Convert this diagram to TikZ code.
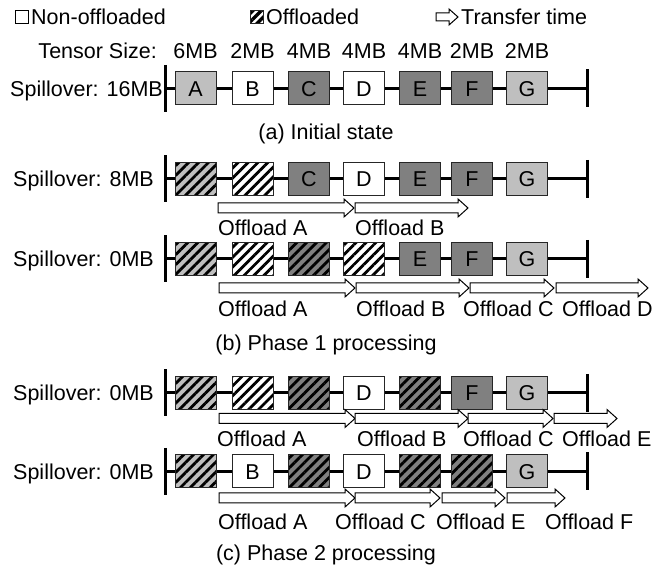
\documentclass[tikz,border=0pt]{standalone}
\usepackage{fontspec}
\setmainfont{Liberation Sans}
\usetikzlibrary{patterns.meta}

% block arrow for one transfer: from x #1 to x #2 at height #3
\newcommand{\xferarrow}[3]{%
  \draw[xfer] (#1,#3-5) -- (#2-10,#3-5) -- (#2-10,#3-9) -- (#2,#3)
    -- (#2-10,#3+9) -- (#2-10,#3+5) -- (#1,#3+5) -- cycle;}

\begin{document}
\begin{tikzpicture}[x=1pt, y=-1pt,
    every node/.style={inner sep=0, text height=15.4pt, text depth=0pt, font=\fontsize{21.5}{24}\selectfont},
    tensor/.style={draw=black!85, line width=1pt, minimum width=41pt, minimum height=33pt},
    cl/.style={tensor, fill=black!25},
    cw/.style={tensor, fill=white},
    cd/.style={tensor, fill=black!50},
    hatch/.style={tensor, preaction={fill=#1}, pattern={Lines[angle=45, distance=7pt, line width=2.8pt]}, pattern color=black},
    hl/.style={hatch=black!25},
    hw/.style={hatch=white},
    hd/.style={hatch=black!50},
    lane/.style={line width=3pt},
    xfer/.style={draw, fill=white, line width=1pt}
]
\useasboundingbox (0,0) rectangle (665,569);

% Legend
\node[draw, line width=1pt, minimum size=13pt, text height=0pt] (keyplain) at (21.5,17) {};
\node[anchor=west] (keyplaintxt) at (31,17) {Non-offloaded};
\node[tensor, minimum size=13pt, text height=0pt, preaction={fill=white}, pattern={Lines[angle=45, distance=6pt, line width=3.5pt]}] (keyoff) at (256.5,17) {};
\node[anchor=west] (keyofftxt) at (266,17) {Offloaded};
\draw[xfer] (436,13) -- (449,13) -- (449,9) -- (458,17) -- (449,25) -- (449,21) -- (436,21) -- cycle;
\node[anchor=west] (keyxfertxt) at (461,17) {Transfer time};

% Tensor sizes
\node[anchor=east] (tsize) at (157,51) {Tensor Size:};
\foreach \s [count=\i] in {6MB,2MB,4MB,4MB,4MB,2MB,2MB} {
  \pgfmathsetmacro\xx{{195.5,252.5,309,364,420,472,527}[\i-1]}
  \node (size\i) at (\xx,51) {\s};
}

% Rows of tensors
\def\rowa{cl/A,cw/B,cd/C,cw/D,cd/E,cd/F,cl/G}
\def\rowb{hl/,hw/,cd/C,cw/D,cd/E,cd/F,cl/G}
\def\rowc{hl/,hw/,hd/,hw/,cd/E,cd/F,cl/G}
\def\rowd{hl/,hw/,hd/,cw/D,hd/,cd/F,cl/G}
\def\rowe{hl/,cw/B,hd/,cw/D,hd/,hd/,cl/G}
\foreach \r/\y/\spec/\lab/\lx in {1/88.5/\rowa/16MB/163, 2/179/\rowb/8MB/154, 3/259/\rowc/0MB/154, 4/393/\rowd/0MB/154, 5/471.5/\rowe/0MB/154} {
  \node[anchor=east] (spill\r) at (\lx,\y) {Spillover: \lab};
  \coordinate (s\r) at (165,\y);
  \coordinate (e\r) at (587,\y);
  \draw[lane] (s\r) -- (e\r);
  \draw[lane] ([yshift=23.5pt]s\r) -- ([yshift=-23.5pt]s\r);
  \draw[lane] ([yshift=19pt]e\r) -- ([yshift=-19pt]e\r);
  \edef\thisrow{\spec}
  \foreach \st/\t [count=\i] in \thisrow {
    \pgfmathsetmacro\xx{{195.5,252.5,309,364,420,472,527}[\i-1]}
    \node[\st] (t\r-\i) at (\xx,\y) {\t};
  }
}

% Captions
\node (capa) at (326,132) {(a) Initial state};
\node (capb) at (326,343) {(b) Phase 1 processing};
\node (capc) at (326,553) {(c) Phase 2 processing};

% Transfers, row 2
\xferarrow{218}{354}{208}
\xferarrow{355}{468}{208}
\node[anchor=west] (off2a) at (218,228) {Offload A};
\node[anchor=west] (off2b) at (355,228) {Offload B};

% Transfers, row 3
\xferarrow{219}{355}{288}
\xferarrow{356}{469}{288}
\xferarrow{470}{554}{288}
\xferarrow{556}{648}{288}
\node[anchor=west] (off3a) at (218,309) {Offload A};
\node[anchor=west] (off3b) at (356,309) {Offload B};
\node[anchor=west] (off3c) at (463,309) {Offload C};
\node[anchor=west] (off3d) at (562,309) {Offload D};

% Transfers, row 4
\xferarrow{219}{355}{418.5}
\xferarrow{355}{468}{418.5}
\xferarrow{468}{553}{418.5}
\xferarrow{554}{617}{418.5}
\node[anchor=west] (off4a) at (217,439) {Offload A};
\node[anchor=west] (off4b) at (357,439) {Offload B};
\node[anchor=west] (off4c) at (463,439) {Offload C};
\node[anchor=west] (off4e) at (562,439) {Offload E};

% Transfers, row 5
\xferarrow{219}{355}{498}
\xferarrow{355}{440}{498}
\xferarrow{442}{505}{498}
\xferarrow{507}{565}{498}
\node[anchor=west] (off5a) at (218,522) {Offload A};
\node[anchor=west] (off5c) at (335,522) {Offload C};
\node[anchor=west] (off5e) at (436,522) {Offload E};
\node[anchor=west] (off5f) at (545,522) {Offload F};

\end{tikzpicture}
\end{document}
